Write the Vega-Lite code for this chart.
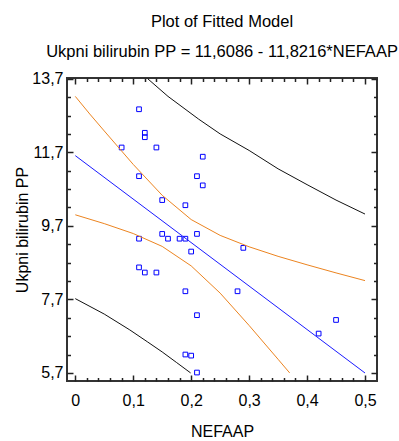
{
  "$schema": "https://vega.github.io/schema/vega-lite/v6.json",
  "autosize": {"type": "none"},
  "padding": {"left": 67, "top": 78, "right": 22, "bottom": 60},
  "width": 310,
  "height": 303,
  "background": "white",
  "title": {
    "text": "Plot of Fitted Model",
    "subtitle": "Ukpni bilirubin PP = 11,6086 - 11,8216*NEFAAP",
    "anchor": "middle",
    "font": "Liberation Sans",
    "fontSize": 16.5,
    "fontWeight": "normal",
    "color": "black",
    "subtitleFont": "Liberation Sans",
    "subtitleFontSize": 16.5,
    "subtitleColor": "black",
    "subtitlePadding": 14,
    "offset": 10
  },
  "config": {
    "view": {"stroke": "#333333", "strokeWidth": 2},
    "axis": {
      "domain": false,
      "grid": false,
      "ticks": true,
      "labelFont": "Liberation Sans",
      "labelFontSize": 16,
      "labelColor": "black",
      "titleFont": "Liberation Sans",
      "titleFontSize": 16,
      "titleFontWeight": "normal",
      "titleColor": "black",
      "tickColor": "#222222",
      "tickWidth": 1.5,
      "labelFlush": false,
      "labelOverlap": false
    }
  },
  "datasets": {
    "pts": [
      {"x": 0.11, "y": 12.87}, {"x": 0.12, "y": 12.23}, {"x": 0.12, "y": 12.11},
      {"x": 0.08, "y": 11.83}, {"x": 0.14, "y": 11.83}, {"x": 0.22, "y": 11.58},
      {"x": 0.11, "y": 11.05}, {"x": 0.21, "y": 11.05}, {"x": 0.22, "y": 10.80},
      {"x": 0.15, "y": 10.40}, {"x": 0.19, "y": 10.26}, {"x": 0.11, "y": 9.35},
      {"x": 0.15, "y": 9.48}, {"x": 0.16, "y": 9.35}, {"x": 0.18, "y": 9.35},
      {"x": 0.19, "y": 9.35}, {"x": 0.21, "y": 9.48}, {"x": 0.20, "y": 9.00},
      {"x": 0.11, "y": 8.57}, {"x": 0.12, "y": 8.43}, {"x": 0.14, "y": 8.43},
      {"x": 0.19, "y": 7.92}, {"x": 0.21, "y": 7.27}, {"x": 0.19, "y": 6.20},
      {"x": 0.20, "y": 6.17}, {"x": 0.21, "y": 5.71}, {"x": 0.29, "y": 9.10},
      {"x": 0.28, "y": 7.92}, {"x": 0.45, "y": 7.14}, {"x": 0.42, "y": 6.77}
    ],
    "curves": [
      {"c": "fit", "t": "fit", "x": 0, "y": 11.6086},
      {"c": "fit", "t": "fit", "x": 0.5, "y": 5.6978},
      {"c": "cu", "t": "conf", "x": 0, "y": 13.22},
      {"c": "cu", "t": "conf", "x": 0.025, "y": 12.74},
      {"c": "cu", "t": "conf", "x": 0.05, "y": 12.28},
      {"c": "cu", "t": "conf", "x": 0.1, "y": 11.37},
      {"c": "cu", "t": "conf", "x": 0.15, "y": 10.53},
      {"c": "cu", "t": "conf", "x": 0.2, "y": 9.87},
      {"c": "cu", "t": "conf", "x": 0.25, "y": 9.44},
      {"c": "cu", "t": "conf", "x": 0.3, "y": 9.13},
      {"c": "cu", "t": "conf", "x": 0.35, "y": 8.87},
      {"c": "cu", "t": "conf", "x": 0.4, "y": 8.64},
      {"c": "cu", "t": "conf", "x": 0.45, "y": 8.42},
      {"c": "cu", "t": "conf", "x": 0.5, "y": 8.21},
      {"c": "cl", "t": "conf", "x": 0, "y": 10.0},
      {"c": "cl", "t": "conf", "x": 0.05, "y": 9.76},
      {"c": "cl", "t": "conf", "x": 0.1, "y": 9.49},
      {"c": "cl", "t": "conf", "x": 0.15, "y": 9.14},
      {"c": "cl", "t": "conf", "x": 0.2, "y": 8.61},
      {"c": "cl", "t": "conf", "x": 0.25, "y": 7.87},
      {"c": "cl", "t": "conf", "x": 0.3, "y": 6.99},
      {"c": "cl", "t": "conf", "x": 0.35, "y": 6.07},
      {"c": "cl", "t": "conf", "x": 0.37, "y": 5.70},
      {"c": "pu", "t": "pred", "x": 0.125, "y": 13.70},
      {"c": "pu", "t": "pred", "x": 0.16, "y": 13.22},
      {"c": "pu", "t": "pred", "x": 0.213, "y": 12.60},
      {"c": "pu", "t": "pred", "x": 0.25, "y": 12.20},
      {"c": "pu", "t": "pred", "x": 0.3, "y": 11.75},
      {"c": "pu", "t": "pred", "x": 0.35, "y": 11.25},
      {"c": "pu", "t": "pred", "x": 0.4, "y": 10.82},
      {"c": "pu", "t": "pred", "x": 0.45, "y": 10.40},
      {"c": "pu", "t": "pred", "x": 0.5, "y": 10.02},
      {"c": "pl", "t": "pred", "x": 0, "y": 7.72},
      {"c": "pl", "t": "pred", "x": 0.05, "y": 7.30},
      {"c": "pl", "t": "pred", "x": 0.094, "y": 6.87},
      {"c": "pl", "t": "pred", "x": 0.125, "y": 6.54},
      {"c": "pl", "t": "pred", "x": 0.15, "y": 6.27},
      {"c": "pl", "t": "pred", "x": 0.175, "y": 5.98},
      {"c": "pl", "t": "pred", "x": 0.199, "y": 5.70}
    ]
  },
  "layer": [
    {
      "data": {"name": "pts"},
      "mark": {"type": "point", "shape": "square", "filled": false, "size": 22, "stroke": "#0000ff", "strokeWidth": 1, "opacity": 1},
      "encoding": {
        "x": {
          "field": "x", "type": "quantitative",
          "scale": {"domain": [-0.0143, 0.5207], "nice": false, "zero": false},
          "axis": {
            "orient": "bottom",
            "title": "NEFAAP",
            "values": [0, 0.1, 0.2, 0.3, 0.4, 0.5],
            "offset": -6,
            "tickSize": 6,
            "labelExpr": "datum.value == 0 ? '0' : replace(format(datum.value, '.1f'), '.', ',')",
            "labelPadding": 11,
            "titlePadding": 15
          }
        },
        "y": {
          "field": "y", "type": "quantitative",
          "scale": {"domain": [5.48, 13.72], "nice": false, "zero": false},
          "axis": {
            "orient": "left",
            "title": "Ukpni bilirubin PP",
            "values": [5.7, 7.7, 9.7, 11.7, 13.7],
            "offset": -6,
            "tickSize": 6,
            "labelExpr": "replace(format(datum.value, '.1f'), '.', ',')",
            "labelPadding": 4,
            "titlePadding": 1
          }
        }
      }
    },
    {
      "data": {"name": "curves"},
      "mark": {"type": "line", "strokeWidth": 1, "clip": true},
      "encoding": {
        "x": {
          "field": "x", "type": "quantitative",
          "axis": {
            "orient": "top", "title": null, "labels": false,
            "values": [0, 0.1, 0.2, 0.3, 0.4, 0.5],
            "offset": -6, "tickSize": 6
          }
        },
        "y": {
          "field": "y", "type": "quantitative",
          "axis": {
            "orient": "right", "title": null, "labels": false,
            "values": [5.7, 7.7, 9.7, 11.7, 13.7],
            "offset": -6, "tickSize": 6
          }
        },
        "detail": {"field": "c"},
        "order": {"field": "x", "type": "quantitative"},
        "color": {
          "field": "t", "type": "nominal", "legend": null,
          "scale": {"domain": ["fit", "conf", "pred"], "range": ["#1a1aff", "#ec8420", "#111111"]}
        }
      }
    },
    {
      "data": {"name": "pts"},
      "mark": {"type": "point", "opacity": 0},
      "encoding": {
        "x": {
          "field": "x", "type": "quantitative",
          "axis": {
            "orient": "bottom", "title": null, "labels": false,
            "values": [0.02, 0.04, 0.06, 0.08, 0.12, 0.14, 0.16, 0.18, 0.22, 0.24, 0.26, 0.28, 0.32, 0.34, 0.36, 0.38, 0.42, 0.44, 0.46, 0.48],
            "offset": -3.5, "tickSize": 3.5
          }
        },
        "y": {
          "field": "y", "type": "quantitative",
          "axis": {
            "orient": "left", "title": null, "labels": false,
            "values": [6.2, 6.7, 7.2, 8.2, 8.7, 9.2, 10.2, 10.7, 11.2, 12.2, 12.7, 13.2],
            "offset": -3.5, "tickSize": 3.5
          }
        }
      }
    },
    {
      "data": {"name": "pts"},
      "mark": {"type": "point", "opacity": 0},
      "encoding": {
        "x": {
          "field": "x", "type": "quantitative",
          "axis": {
            "orient": "top", "title": null, "labels": false,
            "values": [0.02, 0.04, 0.06, 0.08, 0.12, 0.14, 0.16, 0.18, 0.22, 0.24, 0.26, 0.28, 0.32, 0.34, 0.36, 0.38, 0.42, 0.44, 0.46, 0.48],
            "offset": -3.5, "tickSize": 3.5
          }
        },
        "y": {
          "field": "y", "type": "quantitative",
          "axis": {
            "orient": "right", "title": null, "labels": false,
            "values": [6.2, 6.7, 7.2, 8.2, 8.7, 9.2, 10.2, 10.7, 11.2, 12.2, 12.7, 13.2],
            "offset": -3.5, "tickSize": 3.5
          }
        }
      }
    }
  ],
  "resolve": {"axis": {"x": "independent", "y": "independent"}}
}
